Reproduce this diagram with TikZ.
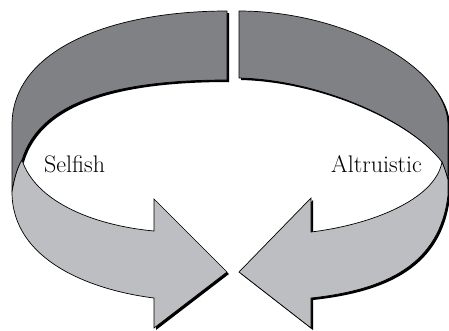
\documentclass[tikz,border=0pt]{standalone}
\begin{document}
\begin{tikzpicture}[x=1pt,y=-1pt,
  darkband/.style={fill={rgb,255:red,128;green,129;blue,133},draw=black,line width=0.7pt,line join=round},
  lightband/.style={fill={rgb,255:red,189;green,190;blue,193},draw=black,line width=0.7pt,line join=miter},
  dropshadow/.style={fill=black,shift={(2,2)}},
  lbl/.style={inner sep=0pt,font=\fontsize{24}{28}\selectfont}]
\useasboundingbox (0,0) rectangle (449,330);
\def\pathLD{(227,11) .. controls (110,11) and (12,50) .. (12,125) -- (12,192)
  .. controls (14,180) and (17,168) .. (22,160)
  .. controls (40,100) and (120,80) .. (227,80) -- cycle}
\def\pathLL{(22,160) .. controls (35,200) and (90,225) .. (154,231) -- (154,199) -- (227,272)
  -- (154,328) -- (154,298) .. controls (90,290) and (12,260) .. (12,192)
  .. controls (14,180) and (17,168) .. (22,160) -- cycle}
\def\pathLH{(154,199) -- (227,272) -- (154,328) -- cycle}
\def\pathRD{(239,11) .. controls (345,11) and (448,68) .. (448,125) -- (448,180)
  .. controls (446,172) and (444,167) .. (442,162)
  .. controls (410,120) and (320,80) .. (239,78) -- cycle}
\def\pathRL{(442,162) .. controls (435,200) and (370,225) .. (311,232) -- (311,198) -- (239,272)
  -- (311,328) -- (311,298) .. controls (385,290) and (440,265) .. (448,195) -- (448,180)
  .. controls (446,172) and (444,167) .. (442,162) -- cycle}
% shadows
\fill[dropshadow] \pathLD;
\fill[dropshadow] \pathRD;
\fill[dropshadow] \pathLH;
\fill[dropshadow] \pathRL;
% bands
\filldraw[darkband] \pathLD;
\filldraw[darkband] \pathRD;
\filldraw[lightband] \pathLL;
\filldraw[lightband] \pathRL;
% labels
\node[lbl,anchor=base west] (selfish) at (44,172) {Selfish};
\node[lbl,anchor=base west] (altruistic) at (331,172) {Altruistic};
\end{tikzpicture}
\end{document}
